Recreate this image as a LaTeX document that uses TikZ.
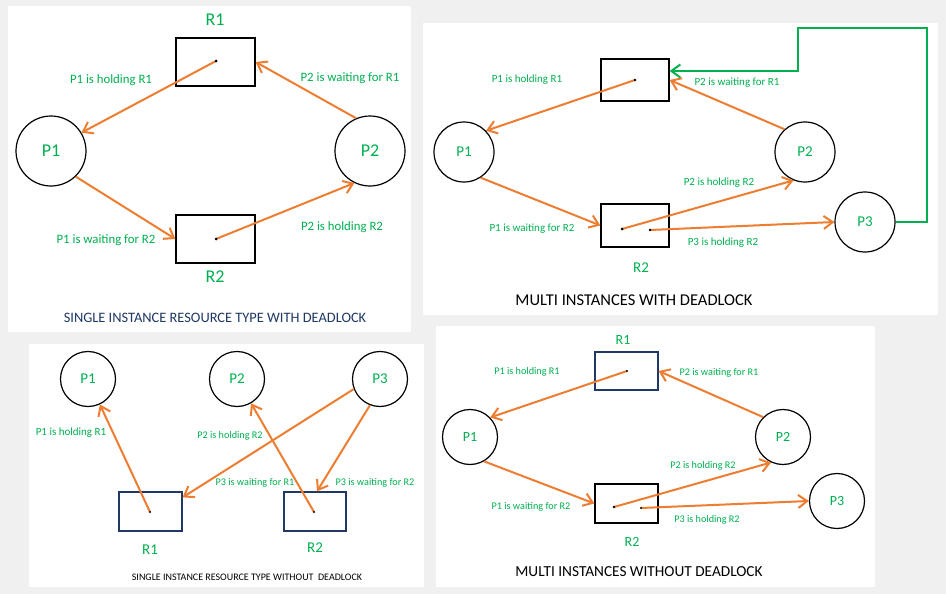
\documentclass[tikz,border=0pt]{standalone}
\usepackage{fontspec}
\setmainfont{Carlito}
\usetikzlibrary{arrows.meta,calc}
\definecolor{bggray}{RGB}{240,240,240}
\definecolor{tgreen}{RGB}{0,176,80}
\definecolor{orangec}{RGB}{237,125,49}
\definecolor{navyc}{RGB}{31,56,100}
\definecolor{gline}{RGB}{0,176,80}
\tikzset{
  proc/.style={circle, draw=black, line width=1.2pt, text=tgreen, inner sep=0pt},
  res/.style={rectangle, draw=black, line width=1.3pt, inner sep=0pt},
  arr/.style={draw=orangec, line width=2pt, -{Straight Barb[length=9pt,width=13pt]}},
  garr/.style={draw=gline, line width=2pt, -{Straight Barb[length=9pt,width=13pt]}},
  lbl/.style={text=tgreen, inner sep=0pt},
  dotc/.style={fill=black},
  ttl/.style={inner sep=0pt}
}
\begin{document}
\begin{tikzpicture}[x=1pt,y=-1pt]
\fill[bggray] (0,0) rectangle (946,594);
\useasboundingbox (0,0) rectangle (946,594);

% ---------- Panel 1 ----------
\fill[white] (8,6) rectangle (411,332);
\node[proc, minimum size=70pt, font=\fontsize{18}{20}\selectfont] (ap1) at (51,151) {P1};
\node[proc, minimum size=70pt, font=\fontsize{18}{20}\selectfont] (ap2) at (370,151) {P2};
\node[res, minimum width=79pt, minimum height=48pt] (ar1) at (215.5,62) {};
\node[res, minimum width=79pt, minimum height=48pt] (ar2) at (215.5,239) {};
\node[lbl, font=\fontsize{18}{20}\selectfont] (ar1l) at (215,20) {R1};
\node[lbl, font=\fontsize{18}{20}\selectfont] (ar2l) at (215,277) {R2};
\coordinate (ad1) at (216,61);
\coordinate (ad2) at (216,239);
\draw[arr] (ad1) -- (ap1.31);
\draw[arr] (ap2.113) -- (ar1.east);
\draw[arr] (ap1.-46) -- (ar2.west);
\draw[arr] (ad2) -- (ap2.-116);
\fill[dotc] (ad1) circle (1.5pt);
\fill[dotc] (ad2) circle (1.5pt);
\begin{scope}[every node/.style={lbl, font=\fontsize{12.8}{14}\selectfont}]
\node (al1) at (111,80) {P1 is holding R1};
\node (al2) at (350,78) {P2 is waiting for R1};
\node (al3) at (106,240) {P1 is waiting for R2};
\node (al4) at (342,227) {P2 is holding R2};
\end{scope}
\node[ttl, text=navyc, font=\fontsize{14.4}{16}\selectfont] (at) at (215,318) {SINGLE INSTANCE RESOURCE TYPE WITH DEADLOCK};

% ---------- Panel 2 ----------
\fill[white] (423,23) rectangle (938,315);
\node[proc, minimum size=60pt, font=\fontsize{15}{17}\selectfont] (bp1) at (464,152) {P1};
\node[proc, minimum size=60pt, font=\fontsize{15}{17}\selectfont] (bp2) at (805,152) {P2};
\node[proc, minimum size=60pt, font=\fontsize{15}{17}\selectfont] (bp3) at (865,222) {P3};
\node[res, minimum width=68pt, minimum height=42pt] (br1) at (635,80) {};
\node[res, minimum width=68pt, minimum height=43pt] (br2) at (635,225.5) {};
\node[lbl, font=\fontsize{15}{17}\selectfont] (br2l) at (641,268) {R2};
\coordinate (bd1) at (635,80);
\coordinate (bd2) at (622,229);
\coordinate (bd3) at (650,230);
\draw[arr] (bd1) -- (bp1.44);
\draw[arr] (bp2.132) -- (br1.east);
\draw[arr] (bp1.-57) -- (br2.west);
\draw[arr] (bd2) -- (bp2.-112);
\draw[arr] (bd3) -- (bp3.west);
\draw[garr] (bp3.east) -| (927,28) -| (798,71) -- (br1.east |- 0,71);
\fill[dotc] (bd1) circle (1.3pt);
\fill[dotc] (bd2) circle (1.5pt);
\fill[dotc] (bd3) circle (1.3pt);
\begin{scope}[every node/.style={lbl, font=\fontsize{11}{12}\selectfont}]
\node (bl1) at (527,80) {P1 is holding R1};
\node (bl2) at (737,83) {P2 is waiting for R1};
\node (bl3) at (719,183) {P2 is holding R2};
\node (bl4) at (532,229) {P1 is waiting for R2};
\node (bl5) at (723,243) {P3 is holding R2};
\end{scope}
\node[ttl, font=\fontsize{16.5}{18}\selectfont] (bt) at (634,300) {MULTI INSTANCES WITH DEADLOCK};

% ---------- Panel 3 ----------
\fill[white] (29,344) rectangle (424,587);
\node[proc, minimum size=55pt, font=\fontsize{15}{17}\selectfont] (cp1) at (88,379) {P1};
\node[proc, minimum size=55pt, font=\fontsize{15}{17}\selectfont] (cp2) at (237,379) {P2};
\node[proc, minimum size=55pt, font=\fontsize{15}{17}\selectfont] (cp3) at (380,379) {P3};
\node[res, draw=navyc, minimum width=63pt, minimum height=39pt] (cr1) at (150.5,511.5) {};
\node[res, draw=navyc, minimum width=62pt, minimum height=39pt] (cr2) at (315,511.5) {};
\node[lbl, font=\fontsize{15}{17}\selectfont] (cr1l) at (150,550) {R1};
\node[lbl, font=\fontsize{15}{17}\selectfont] (cr2l) at (315,548) {R2};
\coordinate (cd1) at (150,512);
\coordinate (cd2) at (314,512);
\draw[arr] (cd1) -- (cp1);
\draw[arr] (cd2) -- (cp2);
\draw[arr] (cp3.-159) -- ($(cr1.north east)+(0,6)$);
\draw[arr] (cp3.-111) -- ($(cr2.north)+(2,0)$);
\fill[dotc] (cd1) circle (1.2pt);
\fill[dotc] (cd2) circle (1.2pt);
\begin{scope}[every node/.style={lbl, font=\fontsize{10.2}{12}\selectfont}]
\node[font=\fontsize{11}{12}\selectfont] (cl1) at (71,433) {P1 is holding R1};
\node (cl2) at (230,436) {P2 is holding R2};
\node (cl3) at (255,483) {P3 is waiting for R1};
\node (cl4) at (375,483) {P3 is waiting for R2};
\end{scope}
\node[ttl, font=\fontsize{10}{11}\selectfont] (ct) at (247,577) {SINGLE INSTANCE RESOURCE TYPE WITHOUT\ \ DEADLOCK};

% ---------- Panel 4 ----------
\fill[white] (436,326) rectangle (875,587);
\node[proc, minimum size=55pt, font=\fontsize{14}{16}\selectfont] (dp1) at (470,437) {P1};
\node[proc, minimum size=55pt, font=\fontsize{14}{16}\selectfont] (dp2) at (783,437) {P2};
\node[proc, minimum size=55pt, font=\fontsize{14}{16}\selectfont] (dp3) at (837,501) {P3};
\node[res, draw=navyc, minimum width=63pt, minimum height=38pt] (dr1) at (626.5,371) {};
\node[res, minimum width=63pt, minimum height=39pt] (dr2) at (626.5,503.5) {};
\node[lbl, font=\fontsize{14}{16}\selectfont] (dr1l) at (623,340) {R1};
\node[lbl, font=\fontsize{14}{16}\selectfont] (dr2l) at (632,542) {R2};
\coordinate (dd1) at (627,371);
\coordinate (dd2) at (614,507);
\coordinate (dd3) at (641,508);
\draw[arr] (dd1) -- (dp1.44);
\draw[arr] (dp2.135) -- (dr1.east);
\draw[arr] (dp1.-60) -- (dr2.west);
\draw[arr] (dd2) -- (dp2.-115);
\draw[arr] (dd3) -- (dp3.west);
\fill[dotc] (dd1) circle (1.2pt);
\fill[dotc] (dd2) circle (1.4pt);
\fill[dotc] (dd3) circle (1.2pt);
\begin{scope}[every node/.style={lbl, font=\fontsize{10.2}{11}\selectfont}]
\node (dl1) at (527,372) {P1 is holding R1};
\node (dl2) at (719,373) {P2 is waiting for R1};
\node (dl3) at (703,466) {P2 is holding R2};
\node (dl4) at (531,507) {P1 is waiting for R2};
\node (dl5) at (707,520) {P3 is holding R2};
\end{scope}
\node[ttl, font=\fontsize{15.3}{17}\selectfont] (dt) at (639,572) {MULTI INSTANCES WITHOUT DEADLOCK};
\end{tikzpicture}
\end{document}
